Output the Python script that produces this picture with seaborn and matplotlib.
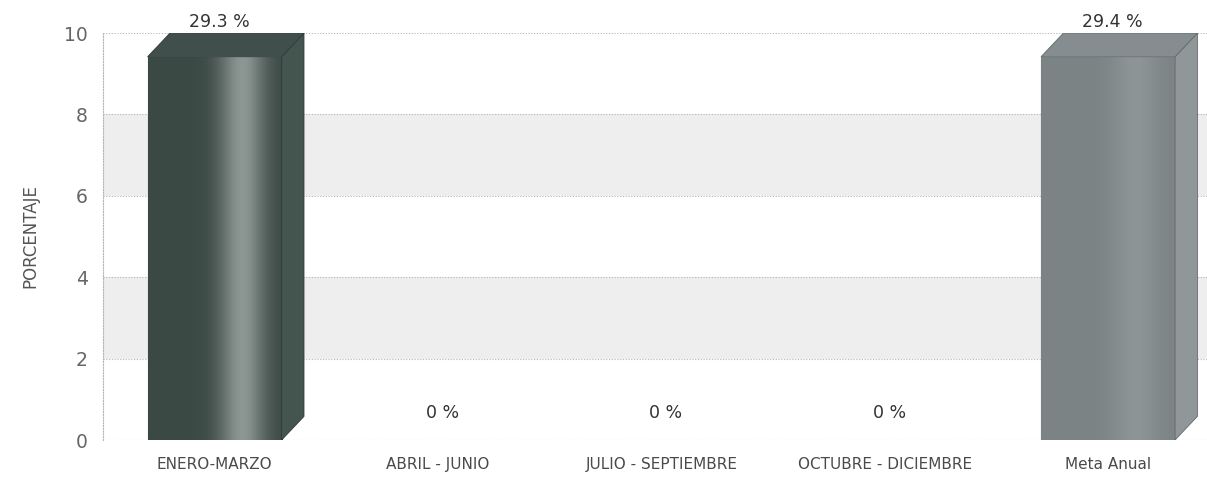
import numpy as np
import matplotlib
matplotlib.use("Agg")
import matplotlib.pyplot as plt
from matplotlib.patches import Polygon
import seaborn as sns

# datos del grafico
categorias = ["ENERO-MARZO", "ABRIL - JUNIO", "JULIO - SEPTIEMBRE", "OCTUBRE - DICIEMBRE", "Meta Anual"]
valores = [29.3, 0, 0, 0, 29.4]
etiquetas = ["29.3 %", "0 %", "0 %", "0 %", "29.4 %"]
colores = ["#3b4945", "#7c8385", "#7c8385", "#7c8385", "#7c8385"]
luces = ["#8c9692", "#8f9698", "#8f9698", "#8f9698", "#8e9596"]

sns.set_style("white")
plt.rcParams["font.family"] = ["DejaVu Sans"]

fig = plt.figure(figsize=(12.07, 4.87), dpi=100)
ax = fig.add_axes([0.0853, 0.0965, 0.9147, 0.8355])

ymax = 10
dx, dy = 0.1, 0.58

# franjas grises
for lo, hi in [(2, 4), (6, 8)]:
    ax.axhspan(lo, hi, facecolor="#eeeeee", edgecolor="none", zorder=0)

sns.barplot(x=categorias, y=valores, hue=categorias, palette=colores, legend=False,
            width=0.6, linewidth=0, ax=ax, zorder=3)

ax.set_ylim(0, ymax)
ax.set_xlim(-0.5, 4.443)

def oscurecer(c, f):
    r, g, b = matplotlib.colors.to_rgb(c)
    return (min(r * f, 1), min(g * f, 1), min(b * f, 1))

barras = [b for cont in ax.containers for b in cont]
barras.sort(key=lambda b: b.get_x())

for p, c, luz in zip(barras, colores, luces):
    h = p.get_height()
    if h <= 0:
        continue
    x, w = p.get_x(), p.get_width()
    h = min(h, ymax - dy)
    p.set_height(h)
    p.set_edgecolor(oscurecer(c, 0.6))
    p.set_linewidth(0.8)
    # sombreado tipo cilindro
    t = np.linspace(0, 1, 200)
    prof = np.exp(-((t - 0.7) / 0.17) ** 2)
    c0 = np.array(matplotlib.colors.to_rgb(c))
    c1 = np.array(matplotlib.colors.to_rgb(luz))
    img = c0[None, :] * (1 - prof[:, None]) + c1[None, :] * prof[:, None]
    im = ax.imshow(img[None, :, :], extent=(x, x + w, 0, h), aspect="auto", zorder=3.5)
    im.set_clip_path(p)
    # cara lateral y superior
    side = Polygon([(x + w, 0), (x + w + dx, dy), (x + w + dx, h + dy), (x + w, h)],
                   closed=True, facecolor=oscurecer(c, 1.15), edgecolor=oscurecer(c, 0.8),
                   linewidth=0.6, zorder=4)
    top = Polygon([(x, h), (x + dx, h + dy), (x + w + dx, h + dy), (x + w, h)],
                  closed=True, facecolor=oscurecer(c, 1.08), edgecolor=oscurecer(c, 0.8),
                  linewidth=0.6, zorder=4)
    ax.add_patch(side)
    ax.add_patch(top)

# etiquetas de valor
for i, (v, txt) in enumerate(zip(valores, etiquetas)):
    y = ymax + 0.05 if v > ymax else v + 0.45
    ax.text(i + 0.02, y, txt, ha="center", va="bottom", fontsize=12.5, color="#333333",
            clip_on=False, zorder=5)

ax.set_yticks(range(0, 11, 2))
ax.yaxis.grid(True, linestyle=(0, (1, 1.5)), color="#b5b5b5", linewidth=0.8, zorder=1)
ax.set_axisbelow(True)
ax.tick_params(axis="y", length=0, pad=11, labelsize=13.5, labelcolor="#666666")
ax.tick_params(axis="x", length=0, pad=12, labelsize=11, labelcolor="#4a4a4a")
ax.set_xlabel("")
ax.set_ylabel("PORCENTAJE", fontsize=12, color="#555555", labelpad=18)

for s in ["top", "right", "bottom"]:
    ax.spines[s].set_visible(False)
ax.spines["left"].set_linestyle((0, (1, 1.5)))
ax.spines["left"].set_color("#b5b5b5")

fig.savefig("out.png", dpi=100)
